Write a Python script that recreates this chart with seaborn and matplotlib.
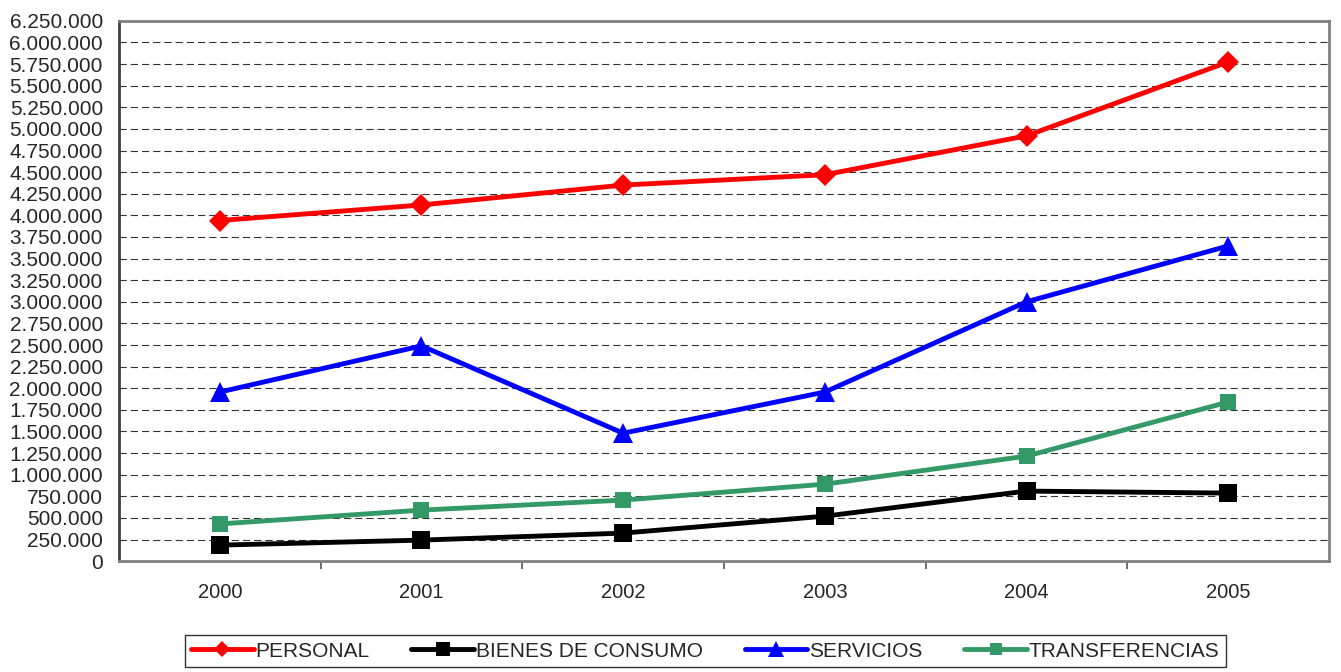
import numpy as np
import pandas as pd
import seaborn as sns
from matplotlib import pyplot as plt
from matplotlib.ticker import FixedLocator, FuncFormatter

sns.set_style("white")
plt.rcParams['font.family'] = ['Liberation Sans', 'DejaVu Sans']

years = ["2000", "2001", "2002", "2003", "2004", "2005"]
personal = [3940000, 4120000, 4350000, 4470000, 4920000, 5775000]
bienes = [185000, 243000, 324000, 520000, 810000, 787000]
servicios = [1956000, 2490000, 1480000, 1956000, 3000000, 3646000]
transferencias = [430000, 590000, 706000, 890000, 1215000, 1840000]

series = {
    "PERSONAL": personal,
    "BIENES DE CONSUMO": bienes,
    "SERVICIOS": servicios,
    "TRANSFERENCIAS": transferencias,
}
colors = {"PERSONAL": "#FF0000", "BIENES DE CONSUMO": "#000000",
          "SERVICIOS": "#0000FF", "TRANSFERENCIAS": "#339966"}
markers = {"PERSONAL": "D", "BIENES DE CONSUMO": "s",
           "SERVICIOS": "^", "TRANSFERENCIAS": "s"}
msizes = {"PERSONAL": 11, "BIENES DE CONSUMO": 12.5,
          "SERVICIOS": 15, "TRANSFERENCIAS": 11}

rows = []
for name, vals in series.items():
    for i, v in enumerate(vals):
        rows.append({"idx": i, "valor": v, "serie": name})
df = pd.DataFrame(rows)

fig = plt.figure(figsize=(13.41, 6.72), dpi=100)
ax = fig.add_axes([0.0887, 0.165, 0.9024, 0.804])

sns.lineplot(data=df, x="idx", y="valor", hue="serie", style="serie",
             palette=colors, markers=markers, dashes=False, linewidth=3.5,
             markersize=11, markeredgewidth=0, ax=ax, legend=True)

# per-series marker sizes (seaborn uses one size for all)
names = list(series.keys())
for line, name in zip(ax.lines[:len(names)], names):
    line.set_markersize(msizes[name])

ax.set_xlim(-0.5, len(years) - 0.5)
ax.set_ylim(0, 6250000)
ax.yaxis.set_major_locator(FixedLocator(np.arange(0, 6250001, 250000)))
ax.yaxis.set_major_formatter(FuncFormatter(lambda v, p: f"{int(v):,}".replace(",", ".")))
ax.set_xticks(range(len(years)))
ax.set_xticklabels(years)
ax.xaxis.set_minor_locator(FixedLocator(np.arange(0.5, len(years) - 0.5, 1)))
ax.tick_params(axis='x', which='major', length=0, pad=16, labelsize=14.5)
ax.tick_params(axis='x', which='minor', length=6, width=1.2, color='#555555', direction='out')
ax.tick_params(axis='y', length=4.5, width=1, color='#555555', direction='out', pad=7, labelsize=15)
ax.tick_params(bottom=True, which='both')
ax.set_xlabel("")
ax.set_ylabel("")

ax.yaxis.grid(True, color='#333333', linestyle=(0, (6.5, 3.6)), linewidth=0.8)
ax.set_axisbelow(True)
for side in ["top", "right", "bottom"]:
    ax.spines[side].set_color('#808080')
    ax.spines[side].set_linewidth(2)
ax.spines["left"].set_color('#404040')
ax.spines["left"].set_linewidth(2)

handles, labels = ax.get_legend_handles_labels()
ax.get_legend().remove()
leg = fig.legend(handles, labels, loc='center', bbox_to_anchor=(0.526, 0.031),
                 ncol=4, frameon=True, fancybox=False, edgecolor='black',
                 fontsize=15, handlelength=3.0, handletextpad=0.1,
                 columnspacing=2.0, borderpad=0.3)
leg.get_frame().set_linewidth(1)
for h, name in zip(leg.legend_handles, labels):
    h.set_linewidth(3.5)
    h.set_markersize(msizes[name] * 0.75)

fig.savefig("out.png", dpi=100)
